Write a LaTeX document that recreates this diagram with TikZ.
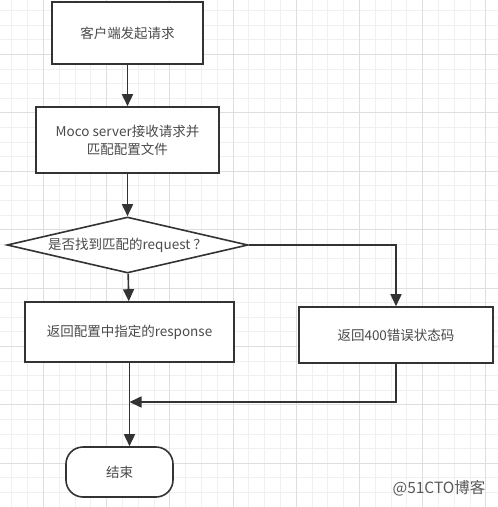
\documentclass[tikz,border=0pt]{standalone}
\usepackage{fontspec}
\setmainfont{Noto Sans CJK SC}
\usetikzlibrary{shapes.geometric,arrows.meta}
\definecolor{lineclr}{HTML}{333333}
\definecolor{txtclr}{HTML}{4A4A4A}
\begin{document}
\begin{tikzpicture}[x=1pt, y=-1pt,
    box/.style={draw=lineclr, line width=1.6pt, fill=white, rectangle, inner sep=0pt,
        font=\fontsize{13.5}{18}\selectfont, text=txtclr, align=center},
    decision/.style={draw=lineclr, line width=1.6pt, fill=white, diamond, aspect=4.3, inner sep=0pt,
        minimum width=241pt, minimum height=56pt, font=\fontsize{13.5}{18}\selectfont, text=txtclr},
    terminal/.style={draw=lineclr, line width=1.6pt, fill=white, rectangle, rounded corners=17pt,
        minimum width=107pt, minimum height=50pt, font=\fontsize{13.5}{18}\selectfont, text=txtclr},
    flow/.style={draw=lineclr, line width=1.6pt, -{Triangle[length=12pt, width=11pt]}}]
    \useasboundingbox (0,0) rectangle (498,507);

    % ===== grid background =====
    \foreach \gx in {0,...,32}
        \draw[black!6, line width=0.6pt] ({43.3 - 3*15.8 + \gx*15.8}, 0) -- ++(0,507);
    \foreach \gy in {0,...,36}
        \draw[black!6, line width=0.6pt] (0, {54.3 - 4*14.6 + \gy*14.6}) -- ++(498,0);
    \foreach \gx in {0,...,7}
        \draw[black!13, line width=0.7pt] ({43.3 + \gx*63.2}, 0) -- ++(0,507);
    \foreach \gy in {0,...,8}
        \draw[black!13, line width=0.7pt] (0, {-4.1 + \gy*58.4}) -- ++(498,0);

    % ===== flow nodes =====
    \node[box, minimum width=151pt, minimum height=62pt] (req) at (127.5, 33) {客户端发起请求};
    \node[box, minimum width=183pt, minimum height=66pt] (match) at (127.5, 140) {Moco server接收请求并\\匹配配置文件};
    \node[decision] (found) at (127.5, 245) {是否找到匹配的request ？};
    \node[box, minimum width=209pt, minimum height=60pt] (resp) at (129.5, 332) {返回配置中指定的response};
    \node[box, minimum width=194pt, minimum height=56pt] (err) at (396, 335) {返回400错误状态码};
    \node[terminal] (done) at (119.5, 472) {结束};

    % ===== connectors =====
    \draw[flow] (req) -- (match);
    \draw[flow] (match) -- (found);
    \draw[flow] (found) -- (resp);
    \draw[flow] (found.east) -| (err.north);
    \draw[flow] (resp.south) -- (resp.south |- done.north);
    \coordinate (join) at (resp.south |- 0, 402);
    \draw[flow] (err.south) |- (join);

    % watermark
    \node[font=\fontsize{15.5}{18}\selectfont, text=black!65] (mark) at (439, 488) {@51CTO博客};
\end{tikzpicture}
\end{document}
